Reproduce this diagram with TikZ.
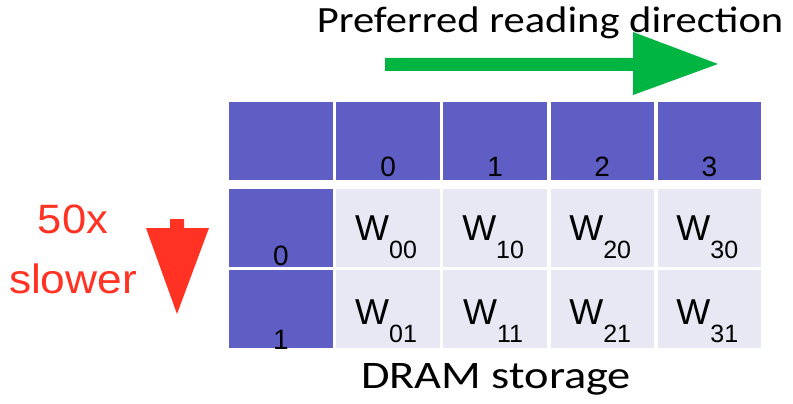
\documentclass[tikz,border=0pt]{standalone}
\usepackage{graphicx}
\usepackage{fontspec}
\setmainfont{Carlito}
\newfontfamily\arialfont{Liberation Sans}
\usetikzlibrary{positioning}

\definecolor{dramblue}{RGB}{95,94,197}
\definecolor{cellgray}{RGB}{232,232,244}
\definecolor{fastgreen}{RGB}{0,181,65}
\definecolor{slowred}{RGB}{255,50,35}

\newcommand\wv[1]{W\raisebox{-18pt}{\fontsize{25}{25}\selectfont #1}}
\newcommand\wide[2]{\scalebox{#1}[1]{#2}}

\begin{document}
\begin{tikzpicture}[
        x=1pt, y=-1pt,
        node distance = 3.2pt,
        hdr/.style   = {rectangle, fill=dramblue, minimum width=103.5pt,
                        minimum height=78pt, inner sep=0pt},
        cell/.style  = {hdr, fill=cellgray},
        idx/.style   = {anchor=base, inner sep=0pt,
                        font=\arialfont\fontsize{28}{28}\selectfont},
        wval/.style  = {anchor=base, inner sep=0pt,
                        font=\arialfont\fontsize{36}{36}\selectfont},
        title/.style = {anchor=base, inner sep=0pt}
    ]
        \useasboundingbox (0,0) rectangle (793,404);

        % header row
        \node [hdr, anchor=north west] at (229,102) (h0) {};
        \node [hdr,  right=of h0]      (h1)  {};
        \node [hdr,  right=of h1]      (h2)  {};
        \node [hdr,  right=of h2]      (h3)  {};
        \node [hdr,  right=of h3]      (h4)  {};
        % row 0
        \node [hdr,  below=8pt of h0]  (r0)  {};
        \node [cell, right=of r0]      (c00) {};
        \node [cell, right=of c00]     (c10) {};
        \node [cell, right=of c10]     (c20) {};
        \node [cell, right=of c20]     (c30) {};
        % row 1
        \node [hdr,  below=of r0]      (r1)  {};
        \node [cell, right=of r1]      (c01) {};
        \node [cell, right=of c01]     (c11) {};
        \node [cell, right=of c11]     (c21) {};
        \node [cell, right=of c21]     (c31) {};

        % indices
        \node [idx] (n0) at ([yshift=4pt]h1.south) {0};
        \node [idx] (n1) at ([yshift=4pt]h2.south) {1};
        \node [idx] (n2) at ([yshift=4pt]h3.south) {2};
        \node [idx] (n3) at ([yshift=4pt]h4.south) {3};
        \node [idx] (m0) at ([yshift=1pt]r0.south) {0};
        \node [idx] (m1) at ([yshift=-1pt]r1.south) {1};

        % values
        \node [wval] (w00) at ([xshift=-2pt,yshift=-52pt]c00.north) {\wv{00}};
        \node [wval] (w10) at ([xshift=-2pt,yshift=-52pt]c10.north) {\wv{10}};
        \node [wval] (w20) at ([xshift=-2pt,yshift=-52pt]c20.north) {\wv{20}};
        \node [wval] (w30) at ([xshift=-2pt,yshift=-52pt]c30.north) {\wv{30}};
        \node [wval] (w01) at ([xshift=-2pt,yshift=-54pt]c01.north) {\wv{01}};
        \node [wval] (w11) at ([xshift=-2pt,yshift=-54pt]c11.north) {\wv{11}};
        \node [wval] (w21) at ([xshift=-2pt,yshift=-54pt]c21.north) {\wv{21}};
        \node [wval] (w31) at ([xshift=-2pt,yshift=-54pt]c31.north) {\wv{31}};

        % texts
        \node [title, font=\fontsize{37}{37}\selectfont] (pref) at (550,33)
            {\wide{1.15}{Preferred reading direction}};
        \node [title, font=\fontsize{39}{39}\selectfont] (dram) at (496,388)
            {\wide{1.19}{DRAM storage}};
        \node [title, text=slowred, font=\arialfont\fontsize{41}{41}\selectfont]
            (fifty) at (73,233) {\wide{1.06}{50x}};
        \node [title, text=slowred, font=\arialfont\fontsize{41}{41}\selectfont]
            (slow) at (73,293) {\wide{1.08}{slower}};

        % arrows
        \fill [fastgreen] (385,58) -- (633,58) -- (633,32) -- (718,64)
            -- (633,95) -- (633,71) -- (385,71) -- cycle;
        \fill [slowred] (170,219) -- (184,219) -- (184,228) -- (209,228)
            -- (177,314) -- (146,228) -- (170,228) -- cycle;
    \end{tikzpicture}
\end{document}
